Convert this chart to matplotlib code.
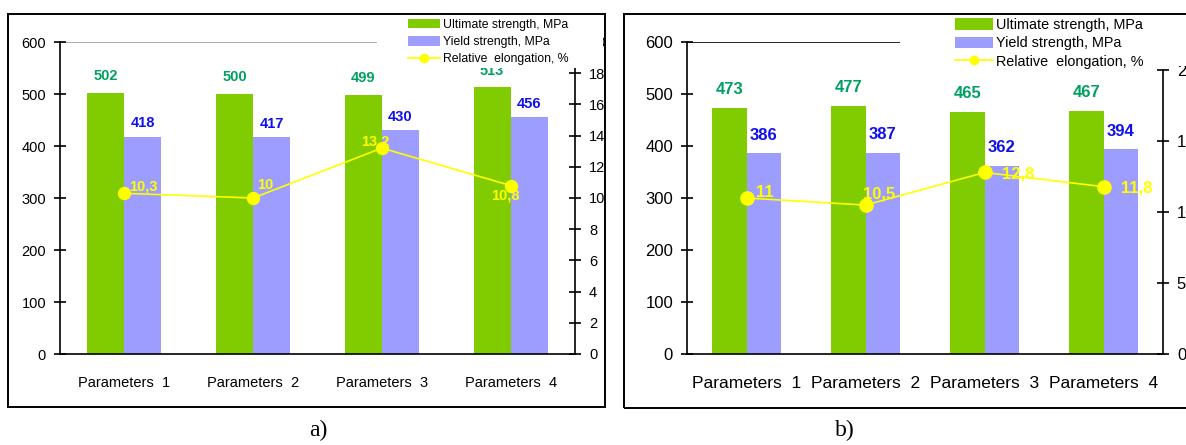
import matplotlib
matplotlib.use("Agg")
import matplotlib.pyplot as plt
from matplotlib.patches import Rectangle, Patch
from matplotlib.lines import Line2D

plt.rcParams['font.family'] = ['Liberation Sans', 'DejaVu Sans']

categories = ["Parameters  1", "Parameters  2", "Parameters  3", "Parameters  4"]
ult_a = [502, 500, 499, 513]
yld_a = [418, 417, 430, 456]
elong_a = [10.3, 10, 13.2, 10.8]
elong_a_lbl = ["10,3", "10", "13,2", "10,8"]

ult_b = [473, 477, 465, 467]
yld_b = [386, 387, 362, 394]
elong_b = [11, 10.5, 12.8, 11.8]
elong_b_lbl = ["11", "10,5", "12,8", "11,8"]

legend_labels = ["Ultimate strength, MPa", "Yield strength, MPa", "Relative  elongation, %"]

GREEN = "#80CC00"
BLUE = "#9D9DFF"
GREEN_T = "#00A060"
BLUE_T = "#1010EE"
YEL = "#FFFF00"

W, H = 1186, 445
fig = plt.figure(figsize=(W / 100, H / 100), dpi=100)


def fx(px):
    return px / W


def fy(py):
    return 1 - py / H


def panel(ax_rect, ult, yld, el, el_lbl, y2max, y2ticks, y2bound, fs_tick, fs_x, fs_lbl,
          off_g, off_b, el_offsets, grid_col, leg_rect, leg_anchor, fs_leg, leg_sp, msize,
          frame, cap, cap_x):
    l, r, t, b = ax_rect
    ax = fig.add_axes([fx(l), fy(b), fx(r - l), (b - t) / H])
    x = list(range(len(categories)))
    bw = 0.287
    ax.bar([i - bw / 2 for i in x], ult, width=bw, color=GREEN, zorder=2)
    ax.bar([i + bw / 2 for i in x], yld, width=bw, color=BLUE, zorder=2)
    ax.set_xlim(-0.5, len(categories) - 0.5)
    ax.set_ylim(0, 600)
    ax.set_yticks(range(0, 601, 100))
    ax.axhline(600, color=grid_col, lw=1.2, zorder=1)
    for s in ["top", "right"]:
        ax.spines[s].set_visible(False)
    ax.spines["left"].set_linewidth(1.2)
    ax.spines["bottom"].set_linewidth(1.2)
    ax.tick_params(axis="y", direction="inout", length=8, width=1.2, labelsize=fs_tick, pad=6)
    ax.set_xticks(x)
    ax.set_xticklabels(categories, fontsize=fs_x)
    ax.tick_params(axis="x", length=0, pad=16)
    for i in x:
        ax.annotate(str(ult[i]), (i - bw / 2, ult[i]), xytext=(0, off_g), textcoords="offset points",
                    ha="center", va="center", color=GREEN_T, fontsize=fs_lbl, fontweight="bold")
        ax.annotate(str(yld[i]), (i + bw / 2, yld[i]), xytext=(0, off_b), textcoords="offset points",
                    ha="center", va="center", color=BLUE_T, fontsize=fs_lbl, fontweight="bold")

    ax2 = ax.twinx()
    ax2.set_ylim(0, y2max)
    ax2.set_yticks(y2ticks)
    ax2.spines["right"].set_bounds(0, y2bound)
    ax2.spines["right"].set_linewidth(1.2)
    for s in ["top", "left", "bottom"]:
        ax2.spines[s].set_visible(False)
    ax2.tick_params(axis="y", direction="inout", length=8, width=1.2, labelsize=fs_tick, pad=6)
    ax2.plot(x, el, color=YEL, lw=1.2, marker="o", ms=msize, mfc=YEL, mec=YEL, zorder=3)
    for i in x:
        dx, dy = el_offsets[i]
        ax2.annotate(el_lbl[i], (x[i], el[i]), xytext=(dx, dy), textcoords="offset points",
                     ha="center", va="center", color=YEL, fontsize=fs_lbl, fontweight="bold", zorder=3)

    # white legend box
    ll, lt, lr, lb = leg_rect
    ax2.add_patch(Rectangle((fx(ll), fy(lb)), fx(lr - ll), (lb - lt) / H, transform=fig.transFigure,
                            facecolor="white", edgecolor="none", zorder=4, clip_on=False))
    handles = [Patch(facecolor=GREEN, edgecolor="none"),
               Patch(facecolor=BLUE, edgecolor="none"),
               Line2D([0], [0], color=YEL, lw=1.3, marker="o", ms=6, mfc=YEL, mec=YEL)]
    leg = ax2.legend(handles, legend_labels, loc="upper left",
                     bbox_to_anchor=(fx(leg_anchor[0]), fy(leg_anchor[1])),
                     bbox_transform=fig.transFigure, frameon=False, fontsize=fs_leg,
                     handlelength=2.6, handleheight=0.8, handletextpad=0.25, labelspacing=leg_sp,
                     borderpad=0, borderaxespad=0)
    leg.set_zorder(5)

    fl, ft, fr, fb = frame
    fig.add_artist(Rectangle((fx(fl), fy(fb)), fx(fr - fl), (fb - ft) / H, transform=fig.transFigure,
                             facecolor="none", edgecolor="black", lw=1.4, zorder=10))
    fig.text(fx(cap_x), fy(430), cap, ha="center", va="center", fontsize=17,
             family=["Liberation Serif", "DejaVu Serif"])
    return ax, ax2


panel((60, 575, 42, 354), ult_a, yld_a, elong_a, elong_a_lbl, 20, range(0, 21, 2), 20,
      10.5, 10.5, 10.5, 12, 9.5, [(14, 5), (9, 9), (-5, 5), (-4, -7)], "#A0A0A0",
      (377, 14, 603, 68), (408, 19), 8.8, 0.42, 8.6, (8, 14, 605, 407), "a)", 318)

panel((687, 1163, 42, 354), ult_b, yld_b, elong_b, elong_b_lbl, 22, range(0, 21, 5), 20,
      12, 12.5, 12, 13.5, 13, [(13, 4), (10, 8), (24, -1), (24, -1)], "black",
      (900, 14, 1186, 66), (955, 18), 10.4, 0.3, 9.5, (624, 14, 1195, 408), "b)", 845)

fig.savefig("out.png", dpi=100)
